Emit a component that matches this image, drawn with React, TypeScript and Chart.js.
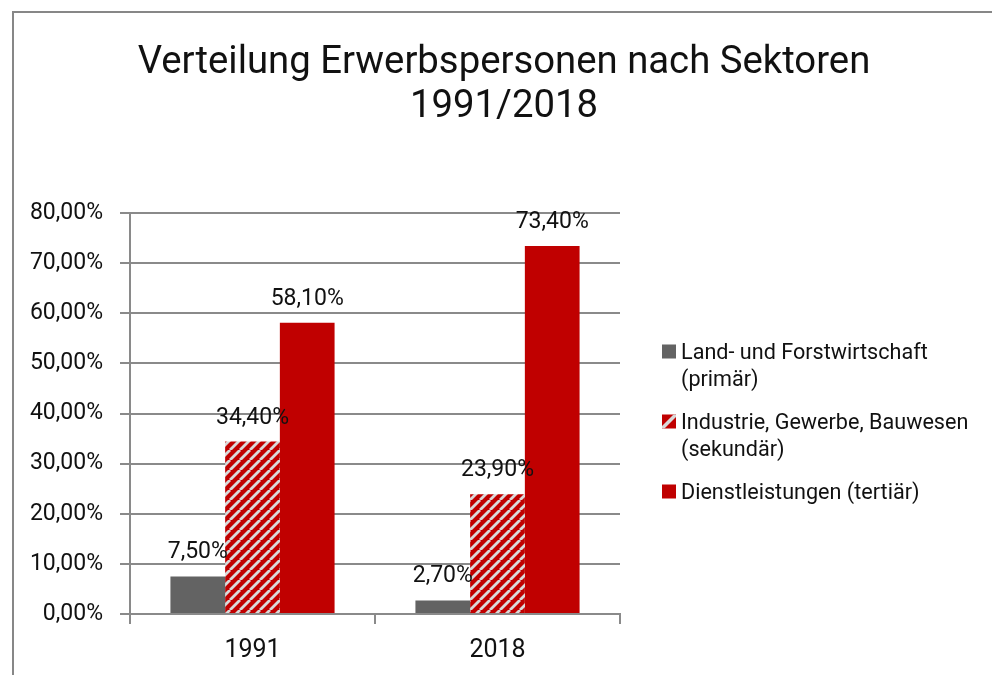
import React, { useEffect, useRef } from 'react';
import { Chart, registerables } from 'chart.js';

Chart.register(...registerables);

// ---- data ----
const categories = ['1991', '2018'];
const primaryValues = [7.5, 2.7];
const secondaryValues = [34.4, 23.9];
const tertiaryValues = [58.1, 73.4];
const seriesLabels = [
  ['Land- und Forstwirtschaft', '(primär)'],
  ['Industrie, Gewerbe, Bauwesen', '(sekundär)'],
  ['Dienstleistungen (tertiär)'],
];
const titleLines = ['Verteilung Erwerbspersonen nach Sektoren', '1991/2018'];
const yMin = 0;
const yMax = 80;
const yStep = 10;

// ---- styles ----
const FONT = 'Roboto';
const TEXT = '#111111';
const GRID = '#8a8a8a';
const GRAY = '#636363';
const RED = '#c00000';
const STRIPE = '#d9d9d9';

const fmt = (v: number) => v.toFixed(2).replace('.', ',') + '%';

function makePattern(): CanvasPattern | string {
  const s = 10;
  const c = document.createElement('canvas');
  c.width = s;
  c.height = s;
  const ctx = c.getContext('2d');
  if (!ctx) return RED;
  ctx.fillStyle = RED;
  ctx.fillRect(0, 0, s, s);
  ctx.strokeStyle = STRIPE;
  ctx.lineWidth = 2.8;
  for (let k = -1; k <= 1; k++) {
    ctx.beginPath();
    ctx.moveTo(k * s, s);
    ctx.lineTo(k * s + s, 0);
    ctx.stroke();
  }
  const p = ctx.createPattern(c, 'repeat');
  return p || RED;
}

const framePlugin = {
  id: 'frame',
  beforeDraw(chart: any) {
    const { ctx, width, height } = chart;
    ctx.save();
    ctx.fillStyle = '#ffffff';
    ctx.fillRect(0, 0, width, height);
    ctx.fillStyle = '#878787';
    ctx.fillRect(12, 11, 2, height);
    ctx.fillRect(12, 11, width, 2);
    ctx.restore();
  },
};

const titlePlugin = {
  id: 'customTitle',
  afterDraw(chart: any) {
    const { ctx } = chart;
    ctx.save();
    ctx.fillStyle = TEXT;
    ctx.font = `38.3px ${FONT}`;
    ctx.textAlign = 'center';
    ctx.textBaseline = 'alphabetic';
    const baselines = [73, 117];
    titleLines.forEach((t, i) => ctx.fillText(t, 504, baselines[i]));
    ctx.restore();
  },
};

const dataLabelPlugin = {
  id: 'dataLabels',
  afterDatasetsDraw(chart: any) {
    const { ctx } = chart;
    ctx.save();
    ctx.fillStyle = TEXT;
    ctx.font = `23px ${FONT}`;
    ctx.textAlign = 'center';
    ctx.textBaseline = 'alphabetic';
    chart.data.datasets.forEach((ds: any, i: number) => {
      const meta = chart.getDatasetMeta(i);
      meta.data.forEach((bar: any, j: number) => {
        ctx.fillText(fmt(ds.data[j]), bar.x, bar.y - 18);
      });
    });
    ctx.restore();
  },
};

const legendPlugin = {
  id: 'customLegend',
  afterDraw(chart: any) {
    const { ctx } = chart;
    ctx.save();
    ctx.font = `21.6px ${FONT}`;
    ctx.textAlign = 'left';
    ctx.textBaseline = 'alphabetic';
    const boxX = 662;
    const textX = 681;
    const lineH = 27;
    const gap = 16;
    let y = 358.5;
    chart.data.datasets.forEach((ds: any, i: number) => {
      const lines: string[] = seriesLabels[i];
      const bx = boxX;
      const by = y - 14;
      if (i === 1) {
        ctx.fillStyle = RED;
        ctx.fillRect(bx, by, 14, 14);
        ctx.save();
        ctx.beginPath();
        ctx.rect(bx, by, 14, 14);
        ctx.clip();
        ctx.strokeStyle = STRIPE;
        ctx.lineWidth = 3.5;
        ctx.beginPath();
        ctx.moveTo(bx, by + 14);
        ctx.lineTo(bx + 14, by);
        ctx.stroke();
        ctx.restore();
      } else {
        ctx.fillStyle = ds.backgroundColor;
        ctx.fillRect(bx, by, 14, 14);
      }
      ctx.fillStyle = TEXT;
      lines.forEach((l, k) => ctx.fillText(l, textX, y + k * lineH));
      y += lines.length * lineH + gap;
    });
    ctx.restore();
  },
};

export default function App() {
  const ref = useRef<HTMLCanvasElement | null>(null);

  useEffect(() => {
    if (!ref.current) return;
    const pattern = makePattern();
    const chart = new Chart(ref.current, {
      type: 'bar',
      data: {
        labels: categories,
        datasets: [
          { label: seriesLabels[0].join(' '), data: primaryValues, backgroundColor: GRAY },
          { label: seriesLabels[1].join(' '), data: secondaryValues, backgroundColor: pattern as any },
          { label: seriesLabels[2].join(' '), data: tertiaryValues, backgroundColor: RED },
        ],
      },
      options: {
        responsive: false,
        animation: false,
        layout: { padding: { left: 0, top: 213, right: 372, bottom: 11 } },
        datasets: { bar: { categoryPercentage: 0.67, barPercentage: 1 } } as any,
        plugins: {
          legend: { display: false },
          title: { display: false },
          tooltip: { enabled: false },
        },
        scales: {
          x: {
            grid: { display: true, drawOnChartArea: false, drawTicks: true, tickLength: 10, color: GRID, lineWidth: 2 },
            border: { display: true, color: GRID, width: 2 },
            ticks: { color: TEXT, font: { family: FONT, size: 25 }, padding: 12 },
            afterFit: (s: any) => { s.height = 50; },
          },
          y: {
            min: yMin,
            max: yMax,
            grid: { color: GRID, lineWidth: 2, tickLength: 10, drawTicks: true },
            border: { display: true, color: GRID, width: 2 },
            ticks: {
              stepSize: yStep,
              color: TEXT,
              font: { family: FONT, size: 23 },
              padding: 17,
              callback: (v: any) => fmt(Number(v)),
            },
            afterFit: (s: any) => { s.width = 130; },
          },
        },
      },
      plugins: [framePlugin, dataLabelPlugin, titlePlugin, legendPlugin],
    });
    return () => chart.destroy();
  }, []);

  return (
    <canvas
      ref={ref}
      width={992}
      height={675}
      style={{ position: 'fixed', left: 0, top: 0, display: 'block', width: 992, height: 675 }}
    />
  );
}
